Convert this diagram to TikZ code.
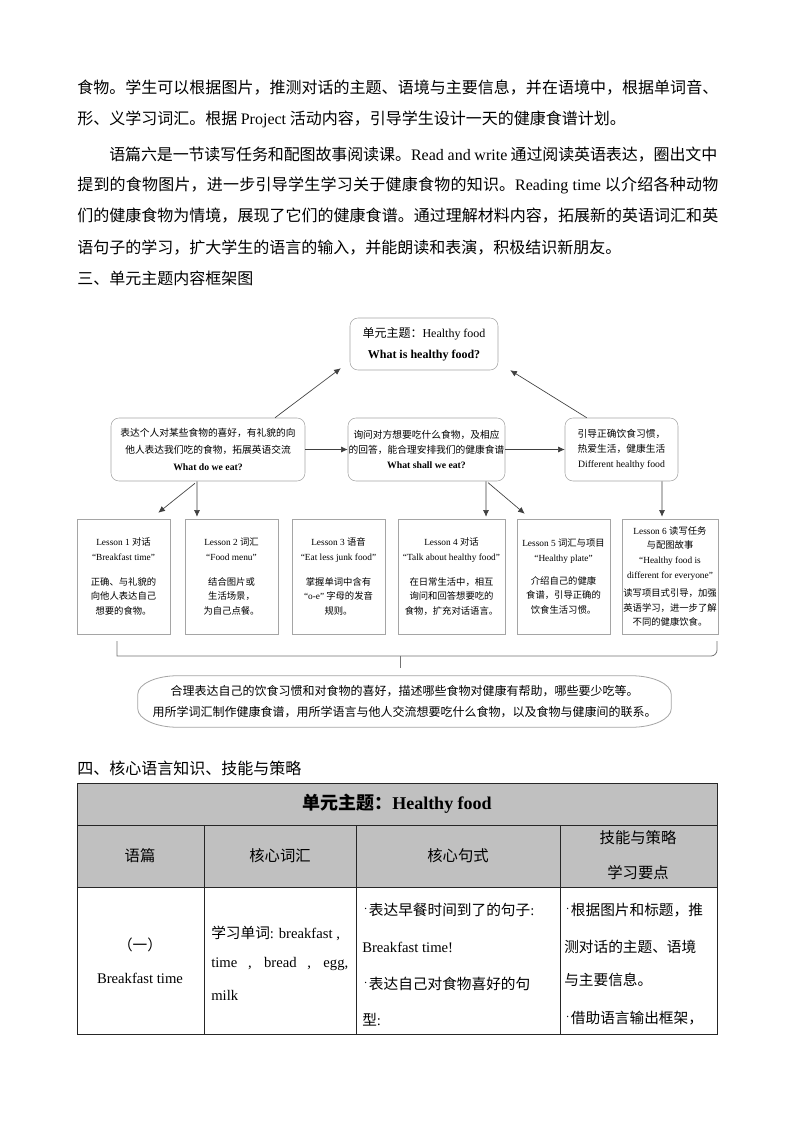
\documentclass[tikz,border=0pt]{standalone}
\usepackage{fontspec}
\setmainfont{Noto Sans CJK SC}
\newfontfamily\enf{Liberation Serif}
\usetikzlibrary{arrows.meta,positioning}
\XeTeXlinebreaklocale "zh"
\XeTeXlinebreakskip=0pt plus 2pt minus 0.5pt
\definecolor{framegray}{RGB}{165,165,165}
\definecolor{tabgray}{RGB}{192,192,192}
\newcommand\bulletmark{\raisebox{3pt}{\fontsize{5pt}{5pt}\selectfont •}}

\tikzset{
  every node/.style={inner sep=0pt},
  jline/.style={anchor=base west, text width=480.75pt, align=justify, font=\fontsize{12pt}{14pt}\selectfont},
  bodytext/.style={anchor=base west, font=\fontsize{12pt}{14pt}\selectfont},
  topic/.style={draw=framegray, rounded corners=6pt, align=center, fill=white},
  lesson/.style={draw=framegray, align=center, minimum width=69.75pt, minimum height=86.25pt, font=\fontsize{7pt}{10.9pt}\selectfont},
  link/.style={-{Latex[length=5pt,width=4.5pt]}, draw=black!75, line width=0.5pt},
  tabline/.style={draw=black!85, line width=0.75pt},
  cellhead/.style={font=\fontsize{11.5pt}{14pt}\selectfont},
  celltext/.style={anchor=base west, font=\fontsize{11pt}{14pt}\selectfont}
}

\begin{document}
\begin{tikzpicture}[x=0.75pt,y=-0.75pt]
  \useasboundingbox[fill=white] (0,0) rectangle (794,1123);

  % Running text
  \node[jline] (p1) at (77,94) {\parfillskip=0pt 食物。学生可以根据图片，推测对话的主题、语境与主要信息，并在语境中，根据单词音、\par};
  \node[bodytext] (p2) at (77,125) {形、义学习词汇。根据 {\enf Project} 活动内容，引导学生设计一天的健康食谱计划。};
  \node[jline, text width=456pt] (p3) at (109,161) {\parfillskip=0pt 语篇六是一节读写任务和配图故事阅读课。{\enf Read and write} 通过阅读英语表达，圈出文中\par};
  \node[jline] (p4) at (77,191) {\parfillskip=0pt 提到的食物图片，进一步引导学生学习关于健康食物的知识。{\enf Reading time} 以介绍各种动物\par};
  \node[jline] (p5) at (77,222) {\parfillskip=0pt 们的健康食物为情境，展现了它们的健康食谱。通过理解材料内容，拓展新的英语词汇和英\par};
  \node[bodytext] (p6) at (77,253) {语句子的学习，扩大学生的语言的输入，并能朗读和表演，积极结识新朋友。};
  \node[bodytext] (sec3) at (77,284) {三、单元主题内容框架图};

  % Framework: theme and three questions
  \node[topic, minimum width=111pt, minimum height=39pt, font=\fontsize{9pt}{15.5pt}\selectfont] (theme) at (424,344)
    {单元主题：{\enf Healthy food}\\{\enf\bfseries What is healthy food?}};
  \node[topic, minimum width=145.5pt, minimum height=47.25pt, font=\fontsize{7.3pt}{13pt}\selectfont] (talk) at (208,449.5)
    {表达个人对某些食物的喜好，有礼貌的向\\他人表达我们吃的食物，拓展英语交流\\{\enf\bfseries What do we eat?}};
  \node[topic, minimum width=117.75pt, minimum height=47.25pt, font=\fontsize{7.3pt}{11.5pt}\selectfont] (ask) at (426.5,449.5)
    {询问对方想要吃什么食物，及相应\\的回答，能合理安排我们的健康食谱\\{\enf\bfseries What shall we eat?}};
  \node[topic, minimum width=84.75pt, minimum height=47.25pt, font=\fontsize{7.3pt}{11.5pt}\selectfont] (guide) at (621.5,449.5)
    {引导正确饮食习惯，\\热爱生活，健康生活\\{\enf Different healthy food}};

  % Lessons
  \node[lesson] (L1) at (123.5,576.5)
    {{\enf Lesson 1 }对话\\{\enf “Breakfast time”}\\[7.9pt]正确、与礼貌的\\向他人表达自己\\想要的食物。};
  \node[lesson] (L2) at (231.5,576.5)
    {{\enf Lesson 2 }词汇\\{\enf “Food menu”}\\[7.9pt]结合图片或\\生活场景，\\为自己点餐。};
  \node[lesson] (L3) at (338.5,576.5)
    {{\enf Lesson 3 }语音\\{\enf “Eat less junk food”}\\[7.9pt]掌握单词中含有\\{\enf “o-e”} 字母的发音\\规则。};
  \node[lesson, minimum width=80.25pt] (L4) at (451.5,576.5)
    {{\enf Lesson 4 }对话\\{\enf “Talk about healthy food”}\\[7.9pt]在日常生活中，相互\\询问和回答想要吃的\\食物，扩充对话语言。};
  \node[lesson] (L5) at (563.5,576.5)
    {{\enf Lesson 5 }词汇与项目\\{\enf “Healthy plate”}\\[6.4pt]介绍自己的健康\\食谱，引导正确的\\饮食生活习惯。};
  \node[lesson, minimum width=72pt] (L6) at (670,576.5)
    {{\enf Lesson 6 }读写任务\\与配图故事\\{\enf “Healthy food is}\\{\enf different for everyone”}\\[3pt]读写项目式引导，加强\\英语学习，进一步了解\\不同的健康饮食。};

  % Arrows
  \draw[link] ([xshift=50.25pt]talk.north) -- ([xshift=-6.75pt,yshift=1.5pt]theme.south west);
  \draw[link] ([xshift=16.5pt]guide.north west) -- ([xshift=9pt]theme.south east);
  \draw[link] (talk.east) -- (ask.west);
  \draw[link] (ask.east) -- (guide.west);
  \draw[link] ([xshift=-9.75pt,yshift=-1.5pt]talk.south) -- ([xshift=-9pt,yshift=4.5pt]L1.north east);
  \draw[link, shorten >=1.5pt] ([xshift=-8.25pt]talk.south) -- ([xshift=-25.9pt]L2.north);
  \draw[link, shorten >=1.5pt] ([xshift=44.6pt]ask.south) -- ([xshift=25.9pt]L4.north);
  \draw[link] ([xshift=46.1pt,yshift=-1pt]ask.south) -- ([xshift=6pt,yshift=3.75pt]L5.north west);
  \draw[link, shorten >=1.5pt] ([xshift=30.4pt]guide.south) -- ([xshift=-6pt]L6.north);

  % Bracket and summary
  \draw[black!55, line width=0.6pt] (117,641) -- (117,656) -- (711,656) to[out=0,in=-90] (717,650) -- (717,641);
  \draw[black!55, line width=0.6pt] (400,656) -- (400,668);
  \node[align=center, minimum width=399.75pt, minimum height=38.25pt, font=\fontsize{9pt}{15.75pt}\selectfont] (summary) at (404.5,701.5)
    {合理表达自己的饮食习惯和对食物的喜好，描述哪些食物对健康有帮助，哪些要少吃等。\\用所学词汇制作健康食谱，用所学语言与他人交流想要吃什么食物，以及食物与健康间的联系。};
  \draw[framegray, line width=0.6pt] ([xshift=30pt]summary.north west) -- ([xshift=-30pt]summary.north east)
    arc[start angle=90, end angle=0, x radius=30pt, y radius=14pt] -- ([yshift=14pt]summary.south east)
    arc[start angle=0, end angle=-90, x radius=30pt, y radius=14pt] -- ([xshift=30pt]summary.south west)
    arc[start angle=-90, end angle=-180, x radius=30pt, y radius=14pt] -- ([yshift=-14pt]summary.north west)
    arc[start angle=180, end angle=90, x radius=30pt, y radius=14pt] -- cycle;

  % Section four: table
  \node[bodytext] (sec4) at (77,774) {四、核心语言知识、技能与策略};
  \fill[tabgray] (77,783) rectangle (717,887);
  \draw[tabline] (77,783) rectangle (717,1034);
  \draw[tabline] (77,825) -- (717,825) (77,887) -- (717,887);
  \foreach \cx in {204,356,560}
    \draw[tabline] (\cx,825) -- (\cx,1034);

  \node[font=\bfseries\fontsize{13.5pt}{16pt}\selectfont] (title) at (397,804) {单元主题：{\enf Healthy food}};
  \node[cellhead] (h1) at (140,856) {语篇};
  \node[cellhead] (h2) at (280,856) {核心词汇};
  \node[cellhead] (h3) at (458,856) {核心句式};
  \node[cellhead, align=center, font=\fontsize{11.5pt}{26.25pt}\selectfont] (h4) at (638,855.5) {技能与策略\\学习要点};

  \node[font=\fontsize{11pt}{14pt}\selectfont] (c1a) at (140,945) {（一）};
  \node[font=\enf\fontsize{11pt}{14pt}\selectfont] (c1b) at (140,978) {Breakfast time};

  \node[celltext] (c2a) at (211,938) {学习单词{\enf : breakfast ,}};
  \node[celltext] (c2b) at (211,967) {\makebox[102.75pt][s]{\enf time , bread , egg,}};
  \node[celltext] (c2c) at (211,1000) {{\enf milk}};

  \node[celltext] (c3a) at (362,915) {\bulletmark 表达早餐时间到了的句子{\enf :}};
  \node[celltext] (c3b) at (362,952) {{\enf Breakfast time!}};
  \node[celltext] (c3c) at (362,989) {\bulletmark 表达自己对食物喜好的句};
  \node[celltext] (c3d) at (362,1025) {型{\enf :}};

  \node[celltext] (c4a) at (564,915) {\bulletmark 根据图片和标题，推};
  \node[celltext] (c4b) at (564,952) {测对话的主题、语境};
  \node[celltext] (c4c) at (564,985) {与主要信息。};
  \node[celltext] (c4d) at (564,1023) {\bulletmark 借助语言输出框架，};
\end{tikzpicture}
\end{document}
